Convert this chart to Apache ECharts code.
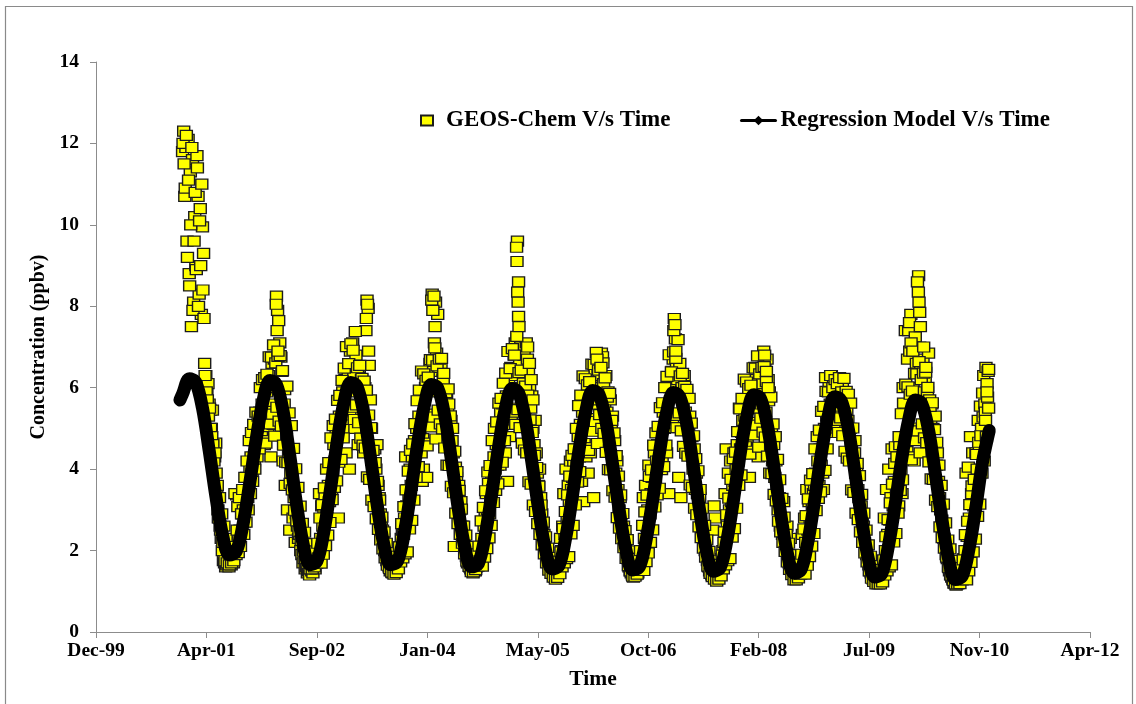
<!DOCTYPE html>
<html>
<head>
<meta charset="utf-8">
<title>GEOS-Chem vs Regression Model Concentration</title>
<script src="https://cdn.jsdelivr.net/npm/echarts@6/dist/echarts.min.js"></script>
<style>
  html, body { margin: 0; padding: 0; background: #ffffff; }
  #chart { width: 1136px; height: 704px; }
</style>
</head>
<body>
<div id="chart"></div>
<script>
// ---- Axis ticks (time axis uses spreadsheet day serials, 500-day steps) ----
const timeTicks = [36500, 37000, 37500, 38000, 38500, 39000, 39500, 40000, 40500, 41000];
const timeTickLabels = ['Dec-99', 'Apr-01', 'Sep-02', 'Jan-04', 'May-05', 'Oct-06', 'Feb-08', 'Jul-09', 'Nov-10', 'Apr-12'];
const concTicks = [0, 2, 4, 6, 8, 10, 12, 14];

const seriesNames = ['GEOS-Chem V/s Time', 'Regression Model V/s Time'];

// ---- GEOS-Chem concentrations (ppbv), every 5 days from 1 January of each year ----
const geos2001 = [11.8, 12.3, 10.7, 11.9, 9.6, 12.1, 8.8, 11.3, 7.5, 11.6, 8.1, 10.2, 9.0, 11.7, 10.7, 8.3, 10.4, 7.8, 9.95, 9.3,
  6.6, 6.3, 5.9, 6.1, 5.6, 5.45, 5.0, 5.45, 4.6, 4.3, 4.64, 3.4, 3.0, 2.8, 2.6, 2.3, 2.0, 1.75, 1.7, 1.6,
  1.65, 1.7, 1.6, 1.75, 1.65, 1.9, 1.7, 2.0, 2.2, 3.37, 3.08, 2.3, 2.5, 2.4, 2.9, 3.0, 2.7, 3.5, 3.8, 3.3,
  3.5, 4.0, 4.3, 3.9, 4.7, 4.2, 4.5, 5.0, 4.7, 5.2, 5.4, 4.9, 5.6];
const geos2002 = [5.2, 4.6, 5.4, 5.9, 4.9, 6.3, 5.6, 4.3, 6.6, 5.1, 6.7, 6.0, 8.25, 7.9, 7.65, 7.1, 6.75, 6.4, 4.2, 5.6,
  3.6, 5.0, 3.0, 4.4, 2.5, 3.9, 3.6, 2.8, 3.3, 2.2, 2.9, 2.6, 2.3, 2.4, 2.0, 1.9, 1.7, 1.8, 1.55, 1.6,
  1.45, 1.5, 1.4, 1.55, 1.5, 1.45, 1.6, 1.55, 1.7, 1.8, 2.0, 3.4, 2.3, 3.1, 2.6, 2.9, 3.3, 3.0, 2.8, 3.6,
  3.2, 4.1, 3.5, 3.9, 4.6, 4.2, 4.9, 4.3, 2.8, 5.3, 5.7, 4.8, 5.9];
const geos2003 = [5.0, 6.2, 4.4, 5.6, 6.4, 4.0, 6.9, 5.5, 7.1, 6.3, 5.0, 6.8, 5.9, 4.6, 6.5, 5.3, 6.2, 5.6, 4.4, 6.0,
  7.4, 8.15, 7.95, 6.55, 5.7, 5.0, 4.6, 4.1, 4.5, 4.0, 4.6, 3.6, 3.3, 2.9, 2.7, 2.5, 2.3, 2.0, 1.9, 1.75,
  1.7, 1.6, 1.5, 1.55, 1.45, 1.6, 1.5, 1.65, 1.6, 1.8, 1.9, 2.1, 2.3, 2.5, 2.4, 2.8, 4.3, 3.1, 3.5, 3.3,
  4.0, 3.6, 4.3, 3.9, 4.7, 4.4, 5.0, 4.6, 5.3, 4.9, 4.4, 3.7, 4.0];
const geos2004 = [5.2, 6.0, 3.8, 6.3, 5.9, 6.6, 6.4, 8.3, 8.1, 7.1, 8.1, 6.85, 7.8, 6.5, 6.0, 6.6, 5.3, 6.2, 5.0, 5.9,
  5.85, 5.4, 5.6, 5.0, 5.2, 4.7, 4.4, 2.1, 4.05, 3.8, 3.5, 3.6, 3.0, 3.2, 2.6, 2.4, 2.2, 2.0, 1.85, 1.7,
  1.75, 1.6, 1.55, 1.5, 1.45, 1.6, 1.5, 1.6, 1.7, 1.65, 1.9, 2.1, 2.3, 2.0, 2.6, 2.9, 3.4, 3.0, 3.65, 2.9,
  3.3, 3.9, 3.5, 4.3, 4.0, 4.6, 4.1, 5.0, 4.5, 5.4, 4.9, 5.6, 5.2];
const geos2005 = [4.4, 5.8, 3.7, 6.2, 4.8, 6.5, 5.5, 6.3, 6.8, 7.1, 6.0, 9.6, 8.6, 6.6, 7.0, 5.8, 6.4, 6.8, 5.5, 7.1,
  6.7, 6.4, 6.0, 5.5, 5.8, 5.0, 4.6, 5.2, 4.4, 3.9, 3.6, 4.0, 3.3, 2.9, 2.6, 2.4, 2.2, 2.0, 1.8, 1.7,
  1.6, 1.55, 1.5, 1.45, 1.4, 1.35, 1.5, 1.4, 1.6, 1.7, 2.3, 2.0, 2.6, 3.4, 2.4, 4.0, 2.8, 3.6, 3.2, 4.2,
  3.5, 3.8, 4.2, 3.7, 4.5, 4.1, 4.8, 4.3, 5.1, 3.7, 5.4, 3.2, 5.6];
const geos2006 = [4.3, 5.2, 3.9, 5.9, 4.4, 6.2, 5.6, 3.3, 6.4, 6.0, 5.7, 6.5, 6.3, 5.9, 6.85, 6.76, 6.1, 5.6, 6.3, 5.4,
  5.9, 5.2, 5.7, 5.0, 5.3, 4.3, 4.7, 3.9, 4.2, 3.5, 3.0, 3.3, 2.9, 2.5, 2.6, 2.3, 2.1, 1.9, 1.8, 1.6,
  1.5, 1.45, 1.4, 1.35, 1.45, 1.4, 1.5, 1.45, 1.6, 1.7, 1.85, 2.0, 3.3, 2.3, 3.6, 2.6, 3.0, 4.1, 2.9, 3.4,
  3.8, 3.4, 4.4, 3.8, 4.2, 4.6, 4.2, 5.0, 4.5, 4.3, 5.4, 5.0, 5.6];
const geos2007 = [4.4, 5.5, 3.4, 6.0, 5.2, 6.4, 6.7, 7.7, 7.2, 6.5, 6.2, 3.8, 6.6, 3.3, 6.0, 5.6, 6.3, 5.4, 5.9, 5.0,
  5.05, 5.3, 4.4, 4.8, 4.0, 4.5, 3.5, 3.9, 3.4, 3.0, 3.3, 2.9, 2.6, 2.4, 2.2, 2.0, 1.9, 1.75, 1.6, 1.5,
  1.45, 1.4, 2.5, 3.1, 2.8, 1.35, 1.4, 1.5, 1.55, 1.7, 1.8, 2.0, 2.2, 3.4, 4.5, 2.6, 3.9, 3.0, 4.2, 3.2,
  3.6, 4.4, 3.7, 4.0, 4.6, 4.2, 5.5, 4.5, 4.9, 5.2, 4.7, 5.3, 5.0];
const geos2008 = [4.6, 5.5, 3.8, 5.9, 4.9, 6.2, 5.5, 6.5, 5.0, 6.1, 4.3, 5.9, 6.4, 5.6, 6.1, 6.9, 6.5, 5.4, 6.7, 6.2,
  5.9, 4.6, 5.0, 4.2, 4.6, 3.8, 4.2, 3.5, 3.0, 3.3, 2.6, 2.8, 2.4, 3.2, 2.2, 2.0, 2.6, 1.8, 1.7, 2.3,
  1.55, 1.5, 1.45, 1.4, 1.35, 1.4, 1.5, 1.45, 1.6, 1.7, 2.4, 1.9, 2.8, 2.2, 3.5, 2.5, 3.2, 2.8, 3.5, 3.1,
  3.4, 3.6, 3.9, 3.3, 4.2, 3.6, 4.5, 4.1, 4.8, 3.5, 5.0, 6.25, 5.3];
const geos2009 = [5.2, 6.0, 5.6, 6.3, 5.8, 6.1, 5.6, 6.0, 5.8, 6.2, 5.5, 5.9, 5.3, 6.0, 5.7, 5.0, 5.6, 5.4, 5.2, 4.9,
  5.0, 4.6, 4.7, 4.3, 4.4, 3.9, 3.9, 3.5, 3.3, 2.9, 3.1, 2.75, 2.6, 2.2, 2.0, 1.9, 1.8, 1.65, 1.5, 1.45,
  1.4, 1.3, 1.25, 1.3, 1.2, 1.25, 1.3, 1.4, 1.5, 1.6, 1.7, 2.8, 2.0, 3.5, 2.4, 4.0, 2.75, 3.3, 4.5, 3.1,
  3.7, 4.55, 3.5, 4.2, 3.1, 4.6, 4.0, 3.4, 6.0, 4.3, 7.4, 5.45, 6.7];
const geos2010 = [7.4, 6.9, 7.8, 4.9, 6.0, 4.2, 7.25, 6.6, 6.35, 8.75, 7.0, 6.4, 5.9, 6.7, 5.6, 6.2, 5.4, 5.9, 6.85, 5.7,
  5.2, 5.6, 5.0, 4.6, 5.3, 4.1, 4.4, 3.7, 3.3, 3.0, 2.75, 2.6, 2.3, 2.1, 1.9, 1.8, 1.6, 1.5, 1.4, 1.35,
  1.3, 1.2, 1.2, 1.15, 1.2, 1.25, 1.3, 1.4, 1.5, 1.6, 1.8, 2.0, 3.9, 2.35, 4.05, 2.8, 4.8, 3.4, 4.4, 3.1,
  3.6, 4.4, 4.0, 5.2, 4.6, 5.55, 5.0, 5.87, 6.3, 5.6, 6.5, 6.1, 6.4];

// ---- GEOS-Chem concentrations (ppbv), every 5 days from 3 January of each year ----
const geos2001b = [12.0, 11.5, 10.9, 12.2, 9.2, 11.1, 8.5, 10.0, 11.9, 7.9, 9.6, 10.8, 8.9, 11.4, 8.0, 10.1, 9.0, 11.0, 8.4, 7.7,
  6.3, 5.9, 5.7, 5.3, 5.5, 5.0, 4.8, 4.6, 4.2, 4.4, 3.9, 3.6, 2.8, 3.3, 2.5, 2.9, 2.2, 2.6, 1.75, 2.3,
  1.7, 2.1, 1.65, 1.9, 1.7, 2.0, 1.75, 3.4, 1.9, 2.5, 1.95, 3.3, 2.1, 2.9, 3.5, 2.4, 3.8, 2.7, 4.2, 3.0,
  4.7, 3.4, 4.9, 3.7, 5.1, 4.0, 5.4, 4.3, 5.3, 4.5, 6.0, 4.8, 6.2];
const geos2002b = [4.7, 6.25, 4.64, 6.33, 5.42, 6.76, 5.11, 6.75, 5.35, 7.05, 4.81, 6.61, 5.52, 6.77, 5.18, 6.79, 5.06, 6.42, 4.59, 5.95,
  4.17, 6.04, 4.16, 5.38, 3.65, 5.07, 3.49, 4.51, 2.99, 4.01, 2.73, 3.55, 2.47, 3.09, 2.25, 2.67, 1.99, 2.45, 1.81, 2.17,
  1.68, 1.99, 1.55, 1.9, 1.55, 1.85, 1.6, 1.99, 1.69, 2.18, 1.82, 2.8, 1.69, 3.13, 1.91, 3.54, 2.12, 4.0, 2.38, 4.16,
  2.69, 4.77, 3.25, 5.07, 3.55, 5.23, 3.71, 5.69, 4.17, 5.81, 4.24, 6.18, 4.77];
const geos2003b = [6.48, 5.22, 7.01, 5.5, 6.59, 5.33, 7.08, 5.52, 6.92, 5.22, 7.38, 5.58, 6.49, 5.14, 6.55, 4.76, 6.23, 4.59, 6.16, 4.52,
  5.94, 3.81, 5.33, 3.75, 5.02, 3.24, 4.46, 3.08, 4.16, 2.78, 3.7, 2.52, 3.24, 2.26, 2.82, 2.04, 2.46, 1.82, 2.18, 1.64,
  1.95, 1.56, 1.82, 1.47, 1.72, 1.42, 1.77, 1.46, 1.86, 1.55, 2.09, 1.72, 2.66, 1.82, 3.08, 1.92, 3.49, 1.97, 3.95, 2.53,
  4.46, 2.74, 4.62, 3.24, 5.12, 3.8, 5.68, 4.06, 5.94, 4.58, 6.41, 4.75, 6.34];
const geos2004b = [4.64, 6.18, 4.57, 6.26, 5.35, 6.69, 5.04, 6.68, 5.28, 6.98, 4.74, 6.54, 5.45, 6.7, 5.11, 6.72, 4.99, 6.35, 4.52, 5.88,
  4.1, 5.97, 4.09, 5.31, 3.58, 5.0, 3.42, 4.44, 2.92, 3.94, 2.66, 3.48, 2.4, 3.02, 2.18, 2.6, 1.92, 2.38, 1.74, 2.1,
  1.61, 1.92, 1.48, 1.83, 1.48, 1.78, 1.53, 1.92, 1.62, 2.11, 1.75, 2.73, 1.62, 3.06, 1.84, 3.47, 2.05, 3.93, 2.31, 4.09,
  2.62, 4.7, 3.18, 5.0, 3.48, 5.16, 3.64, 5.62, 4.1, 5.74, 4.17, 6.11, 4.7];
const geos2005b = [6.36, 5.1, 6.89, 5.38, 6.47, 5.21, 6.96, 5.4, 6.8, 5.1, 7.26, 5.46, 6.37, 5.02, 6.43, 4.64, 6.11, 4.47, 6.04, 4.4,
  5.82, 3.69, 5.21, 3.63, 4.9, 3.12, 4.34, 2.96, 4.04, 2.66, 3.58, 2.4, 3.12, 2.14, 2.7, 1.92, 2.34, 1.7, 2.06, 1.52,
  1.83, 1.44, 1.7, 1.35, 1.6, 1.3, 1.65, 1.34, 1.74, 1.43, 1.97, 1.6, 2.54, 1.7, 2.96, 1.8, 3.37, 1.85, 3.83, 2.41,
  4.34, 2.62, 4.5, 3.12, 5.0, 3.68, 5.56, 3.94, 5.82, 4.46, 6.29, 4.63, 6.22];
const geos2006b = [4.53, 6.07, 4.46, 6.15, 5.24, 6.58, 4.93, 6.57, 5.17, 6.87, 4.63, 6.43, 5.34, 6.59, 5.0, 6.61, 4.88, 6.24, 4.41, 5.77,
  3.99, 5.86, 3.98, 5.2, 3.47, 4.89, 3.31, 4.33, 2.81, 3.83, 2.55, 3.37, 2.29, 2.91, 2.07, 2.49, 1.81, 2.27, 1.63, 1.99,
  1.5, 1.81, 1.37, 1.72, 1.37, 1.67, 1.42, 1.81, 1.51, 2.0, 1.64, 2.62, 1.51, 2.95, 1.73, 3.36, 1.94, 3.82, 2.2, 3.98,
  2.51, 4.59, 3.07, 4.89, 3.37, 5.05, 3.53, 5.51, 3.99, 5.63, 4.06, 6.0, 4.59];
const geos2007b = [6.28, 5.02, 6.81, 5.3, 6.39, 5.13, 6.88, 5.32, 6.72, 5.02, 7.18, 5.38, 6.29, 4.94, 6.35, 4.56, 6.03, 4.39, 5.96, 4.32,
  5.74, 3.61, 5.13, 3.55, 4.82, 3.04, 4.26, 2.88, 3.96, 2.58, 3.5, 2.32, 3.04, 2.06, 2.62, 1.84, 2.26, 1.62, 1.98, 1.44,
  1.75, 1.36, 1.62, 1.3, 1.52, 1.25, 1.57, 1.3, 1.66, 1.38, 1.89, 1.55, 2.46, 1.65, 2.88, 1.75, 3.29, 1.8, 3.75, 2.33,
  4.26, 2.54, 4.42, 3.04, 4.92, 3.6, 5.48, 3.86, 5.74, 4.38, 6.21, 4.55, 6.14];
const geos2008b = [4.44, 5.98, 4.37, 6.06, 5.15, 6.49, 4.84, 6.48, 5.08, 6.78, 4.54, 6.34, 5.25, 6.5, 4.91, 6.52, 4.79, 6.15, 4.32, 5.68,
  3.9, 5.77, 3.89, 5.11, 3.38, 4.8, 3.22, 4.24, 2.72, 3.74, 2.46, 3.28, 2.2, 2.82, 1.98, 2.4, 1.72, 2.18, 1.54, 1.9,
  1.41, 1.72, 1.28, 1.63, 1.28, 1.58, 1.33, 1.72, 1.42, 1.91, 1.55, 2.53, 1.42, 2.86, 1.64, 3.27, 1.85, 3.73, 2.11, 3.89,
  2.42, 4.5, 2.98, 4.8, 3.28, 4.96, 3.44, 5.42, 3.9, 5.54, 3.97, 5.91, 4.5];
const geos2009b = [5.9, 4.9, 6.3, 5.18, 6.0, 5.01, 6.2, 5.2, 6.1, 4.9, 6.25, 5.26, 5.9, 4.82, 6.23, 4.44, 5.91, 4.27, 5.84, 4.2,
  5.62, 3.49, 5.01, 3.43, 4.7, 2.92, 4.14, 2.76, 3.84, 2.46, 3.38, 2.2, 2.92, 1.94, 2.5, 1.72, 2.14, 1.5, 1.86, 1.32,
  1.63, 1.24, 1.5, 1.18, 1.4, 1.18, 1.45, 1.18, 1.54, 1.23, 1.77, 1.4, 2.34, 1.5, 2.76, 1.6, 3.17, 1.65, 3.63, 2.21,
  4.14, 2.42, 4.3, 2.92, 4.8, 3.48, 5.36, 3.74, 5.62, 4.26, 6.09, 4.43, 6.02];
const geos2010b = [4.3, 5.84, 4.23, 5.92, 5.01, 6.35, 4.7, 6.34, 4.94, 6.64, 4.4, 6.2, 5.11, 6.36, 4.77, 6.38, 4.65, 6.01, 4.18, 5.54,
  3.76, 5.63, 3.75, 4.97, 3.24, 4.66, 3.08, 4.1, 2.58, 3.6, 2.32, 3.14, 2.06, 2.68, 1.84, 2.26, 1.58, 2.04, 1.4, 1.76,
  1.27, 1.58, 1.18, 1.49, 1.18, 1.44, 1.19, 1.58, 1.28, 1.77, 1.41, 2.39, 1.28, 2.72, 1.5, 3.13, 1.71, 3.59, 1.97, 3.75,
  2.28, 4.36, 2.84, 4.66, 3.14, 4.82, 3.9, 5.28, 4.2, 5.4, 4.8, 5.77, 5.5];

// Additional daily GEOS-Chem values during the high-concentration episodes
const geosExtraDates = [
  '2002-03-01', '2002-03-05', '2002-03-09',
  '2003-04-13', '2003-04-18', '2003-04-23',
  '2004-02-03', '2004-02-08', '2004-02-13', '2004-02-18',
  '2005-02-21', '2005-02-23', '2005-02-26', '2005-02-28', '2005-03-02', '2005-03-04',
  '2005-04-12', '2005-04-20', '2005-04-28', '2005-05-06',
  '2006-02-20', '2006-03-10',
  '2007-02-03', '2007-02-08', '2007-02-12',
  '2008-03-20', '2008-03-28', '2008-04-05',
  '2010-01-05', '2010-01-12', '2010-01-20', '2010-02-10', '2010-02-14', '2010-02-17', '2010-02-20', '2010-02-23',
  '2010-03-10', '2010-03-20', '2010-12-15', '2010-12-22', '2010-12-29'];
const geosExtraValues = [
  8.05, 7.4, 6.9,
  7.7, 8.05, 6.9,
  8.15, 7.9, 8.25, 7.5,
  9.45, 9.1, 8.35, 8.1, 7.75, 7.5,
  7.0, 6.6, 6.2, 5.7,
  6.7, 6.5,
  7.4, 7.55, 6.9,
  6.8, 6.4, 6.0,
  7.6, 7.1, 6.9, 8.6, 8.35, 8.1, 7.85, 7.5,
  7.0, 6.5, 5.2, 5.9, 6.45];

// ---- Regression model (ppbv), first day of each month from January 2001 ----
const regressionFirstDate = '2000-12-20';
const regressionFirstValue = 5.70;
const regressionMonthly = [
  5.85, 6.22, 6.14, 5.50, 4.47, 3.32, 2.38, 1.89, 1.98, 2.63, 3.66, 4.76,
  5.70, 6.18, 6.09, 5.42, 4.34, 3.14, 2.15, 1.65, 1.74, 2.42, 3.49, 4.65,
  5.63, 6.13, 6.04, 5.38, 4.31, 3.12, 2.15, 1.65, 1.74, 2.41, 3.47, 4.62,
  5.58, 6.08, 5.99, 5.33, 4.26, 3.07, 2.10, 1.60, 1.68, 2.35, 3.40, 4.53,
  5.49, 5.98, 5.89, 5.24, 4.18, 3.01, 2.04, 1.55, 1.63, 2.30, 3.35, 4.48,
  5.44, 5.93, 5.84, 5.19, 4.14, 2.98, 2.02, 1.52, 1.61, 2.28, 3.31, 4.44,
  5.39, 5.88, 5.79, 5.14, 4.10, 2.94, 1.98, 1.49, 1.58, 2.24, 3.28, 4.40,
  5.34, 5.83, 5.74, 5.09, 4.05, 2.89, 1.93, 1.44, 1.53, 2.19, 3.23, 4.35,
  5.29, 5.78, 5.69, 5.04, 3.98, 2.81, 1.84, 1.35, 1.43, 2.10, 3.13, 4.26,
  5.21, 5.70, 5.61, 4.96, 3.91, 2.75, 1.79, 1.29, 1.38, 2.03, 3.06, 4.16,
  4.95];

// ---- Helpers: calendar date -> spreadsheet day serial ----
const SERIAL_EPOCH = Date.UTC(1899, 11, 30);
function daySerial(y, m, d) {
  return (Date.UTC(y, m - 1, d) - SERIAL_EPOCH) / 86400000;
}
function isoSerial(iso) {
  const p = iso.split('-').map(Number);
  return daySerial(p[0], p[1], p[2]);
}

// Build scatter points: [year, first day of January, values]
const geosBlocks = [
  [2001, 1, geos2001], [2002, 1, geos2002], [2003, 1, geos2003], [2004, 1, geos2004], [2005, 1, geos2005],
  [2006, 1, geos2006], [2007, 1, geos2007], [2008, 1, geos2008], [2009, 1, geos2009], [2010, 1, geos2010],
  [2001, 3, geos2001b], [2002, 3, geos2002b], [2003, 3, geos2003b], [2004, 3, geos2004b], [2005, 3, geos2005b],
  [2006, 3, geos2006b], [2007, 3, geos2007b], [2008, 3, geos2008b], [2009, 3, geos2009b], [2010, 3, geos2010b]
];
const geosPoints = [];
geosBlocks.forEach(function (b) {
  const start = daySerial(b[0], 1, b[1]);
  b[2].forEach(function (v, k) { geosPoints.push([start + 5 * k, v]); });
});
geosExtraDates.forEach(function (d, i) { geosPoints.push([isoSerial(d), geosExtraValues[i]]); });

// Build regression line points
const regressionPoints = [[isoSerial(regressionFirstDate), regressionFirstValue]];
regressionMonthly.forEach(function (v, i) {
  const y = 2001 + Math.floor(i / 12);
  const m = (i % 12) + 1;
  regressionPoints.push([daySerial(y, m, 1), v]);
});

const FONT = '"Liberation Serif", "Times New Roman", serif';
const AXIS_GREY = '#8c8c8c';

const chart = echarts.init(document.getElementById('chart'), null, { renderer: 'canvas' });
chart.setOption({
  animation: false,
  backgroundColor: '#ffffff',
  textStyle: { fontFamily: FONT },
  graphic: [{
    type: 'rect',
    silent: true,
    shape: { x: 5.5, y: 6.5, width: 1127, height: 720 },
    style: { fill: 'none', stroke: '#8a8a8a', lineWidth: 1.2 }
  }],
  grid: {
    left: 96, right: 46, top: 62, bottom: 72,
    containLabel: false,
    outerBoundsMode: 'none'
  },
  legend: [{
    data: [seriesNames[0]],
    left: 415, top: 104,
    itemWidth: 12, itemHeight: 10,
    selectedMode: false,
    textStyle: { fontFamily: FONT, fontWeight: 'bold', fontSize: 23, color: '#000', padding: [0, 0, 0, 8] }
  }, {
    data: [{ name: seriesNames[1], lineStyle: { width: 3, color: '#000' }, itemStyle: { color: '#000' } }],
    left: 735, top: 104,
    itemWidth: 34, itemHeight: 12,
    selectedMode: false,
    textStyle: { fontFamily: FONT, fontWeight: 'bold', fontSize: 23, color: '#000' }
  }],
  xAxis: {
    type: 'value',
    min: timeTicks[0],
    max: timeTicks[timeTicks.length - 1],
    interval: timeTicks[1] - timeTicks[0],
    name: 'Time',
    nameLocation: 'middle',
    nameGap: 36,
    nameTextStyle: { fontFamily: FONT, fontWeight: 'bold', fontSize: 21.5, color: '#000' },
    axisLine: { show: true, onZero: false, lineStyle: { color: AXIS_GREY, width: 1 } },
    axisTick: { show: true, inside: false, length: 6, lineStyle: { color: AXIS_GREY } },
    axisLabel: {
      margin: 9,
      fontFamily: FONT, fontWeight: 'bold', fontSize: 19.5, color: '#000',
      formatter: function (v) {
        const i = timeTicks.indexOf(Math.round(v));
        return i >= 0 ? timeTickLabels[i] : '';
      }
    },
    splitLine: { show: false }
  },
  yAxis: {
    type: 'value',
    min: concTicks[0],
    max: concTicks[concTicks.length - 1],
    interval: concTicks[1] - concTicks[0],
    name: 'Concentration (ppbv)',
    nameLocation: 'middle',
    nameGap: 44,
    nameRotate: 90,
    nameTextStyle: { fontFamily: FONT, fontWeight: 'bold', fontSize: 20, color: '#000' },
    axisLine: { show: true, lineStyle: { color: AXIS_GREY, width: 1 } },
    axisTick: { show: true, inside: false, length: 6, lineStyle: { color: AXIS_GREY } },
    axisLabel: { margin: 17, fontFamily: FONT, fontWeight: 'bold', fontSize: 19.5, color: '#000' },
    splitLine: { show: false }
  },
  series: [{
    name: seriesNames[0],
    type: 'scatter',
    symbol: 'rect',
    symbolSize: [12, 10],
    data: geosPoints,
    z: 2,
    large: false,
    progressive: 0,
    itemStyle: { color: '#ffff00', borderColor: '#1c1c1c', borderWidth: 1.3, opacity: 1 },
    emphasis: { disabled: true }
  }, {
    name: seriesNames[1],
    type: 'line',
    data: regressionPoints,
    smooth: 0.35,
    symbol: 'diamond',
    symbolSize: 9,
    showSymbol: false,
    z: 3,
    lineStyle: { color: '#000000', width: 13, cap: 'round', join: 'round' },
    itemStyle: { color: '#000000' },
    emphasis: { disabled: true }
  }]
});
</script>
</body>
</html>
